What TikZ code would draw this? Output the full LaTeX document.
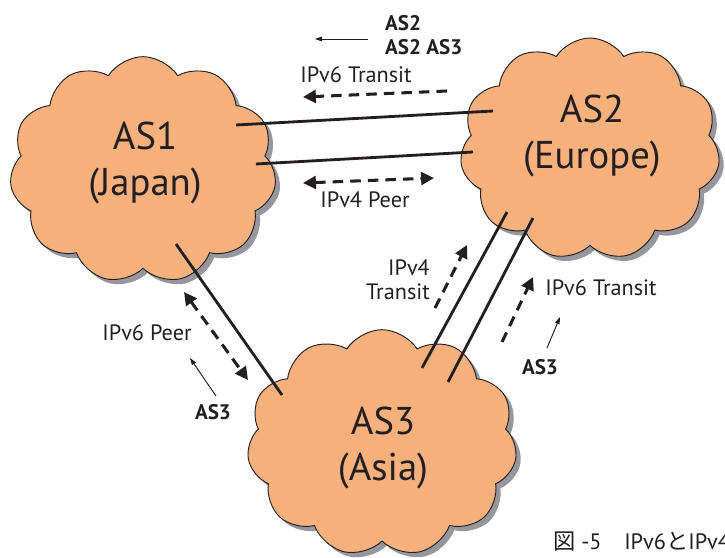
\documentclass[tikz,border=0pt]{standalone}
\usepackage{fontspec}
\setmainfont{PT Sans}
\newfontfamily\jpfont{Noto Sans CJK JP}
\usetikzlibrary{shapes.symbols,shadows,arrows.meta}
\definecolor{asorange}{RGB}{248,177,125}
\definecolor{asshadow}{RGB}{150,151,156}
\definecolor{asink}{RGB}{35,31,32}
\begin{document}
\begin{tikzpicture}[x=0.03cm,y=-0.03cm,
  ascloud/.style={cloud, cloud puffs=11, cloud puff arc=115, cloud ignores aspect, draw=asink, line width=0.8pt, fill=asorange,
    drop shadow={shadow xshift=1.4mm, shadow yshift=-1.4mm, fill=asshadow, opacity=1}},
  astext/.style={align=center, text=asink, font=\fontsize{33}{40}\selectfont},
  link/.style={draw=asink, line width=2.4pt},
  flow/.style={draw=asink, line width=2.6pt, dash pattern=on 9pt off 6pt, -{Triangle[length=11pt,width=11pt]}},
  flowboth/.style={flow, {Triangle[length=11pt,width=11pt]}-{Triangle[length=11pt,width=11pt]}},
  aspath/.style={draw=asink, line width=0.8pt, -{Triangle[length=6pt,width=4pt]}},
  lbl/.style={text=asink, font=\fontsize{19}{20.4}\selectfont},
  aslbl/.style={text=asink, font=\bfseries\fontsize{18}{20.4}\selectfont}]
\useasboundingbox (0,0) rectangle (725,558);

\node[ascloud, minimum width=8.0cm, minimum height=6.8cm] (as1) at (143,170) {};
\node[ascloud, minimum width=7.8cm, minimum height=6.66cm] (as2) at (590,149) {};
\node[ascloud, minimum width=8.1cm, minimum height=6.8cm] (as3) at (382,443) {};
\node[astext] (as1txt) at (145,163) {AS1\\(Japan)};
\node[astext] (as2txt) at (592,136) {AS2\\(Europe)};
\node[astext] (as3txt) at (383,448) {AS3\\(Asia)};

\coordinate (j1) at (236,125);
\coordinate (j2) at (256,164);
\coordinate (j3) at (176,244);
\coordinate (e1) at (493,111);
\coordinate (e2) at (473,152);
\coordinate (e3) at (507,212);
\coordinate (e4) at (533,218);
\coordinate (a1) at (282,395);
\coordinate (a2) at (422,368);
\coordinate (a3) at (448,382);
\draw[link] (j1) -- (e1);
\draw[link] (j2) -- (e2);
\draw[link] (j3) -- (a1);
\draw[link] (a2) -- (e3);
\draw[link] (a3) -- (e4);

\coordinate (t6s) at (447,91);
\coordinate (t6e) at (303,97);
\coordinate (p4s) at (303,183);
\coordinate (p4e) at (434,178);
\coordinate (p6s) at (184,292);
\coordinate (p6e) at (248,380);
\coordinate (t4s) at (435,308);
\coordinate (t4e) at (467,245);
\coordinate (r6s) at (502,342);
\coordinate (r6e) at (533,277);
\draw[flow] (t6s) -- (t6e);
\draw[flowboth] (p4s) -- (p4e);
\draw[flowboth] (p6s) -- (p6e);
\draw[flow] (t4s) -- (t4e);
\draw[flow] (r6s) -- (r6e);

\node[aslbl, align=left, anchor=west] (pathtop) at (381,35) {AS2\\AS2 AS3};
\node[aslbl] (pathleft) at (213,412) {AS3};
\node[aslbl] (pathright) at (540,367) {AS3};
\coordinate (pt) at (315,39);
\coordinate (pl) at (190,358);
\coordinate (pr) at (560,317);
\draw[aspath] (368,39) -- (pt);
\draw[aspath] (216,396) -- (pl);
\draw[aspath] (547,348) -- (pr);

\node[lbl] (tr6top) at (356,75) {IPv6 Transit};
\node[lbl] (peer4) at (365,200) {IPv4 Peer};
\node[lbl] (peer6) at (147,333) {IPv6 Peer};
\node[lbl, align=right, anchor=east] (tr4) at (434,280) {IPv4\\Transit};
\node[lbl] (tr6right) at (601,288) {IPv6 Transit};

\node[text=asink, font=\fontsize{19}{20}\selectfont, inner sep=0pt, anchor=base west] (caption) at (553,549) {{\jpfont 図} -5\hspace{0.68cm}IPv6{\jpfont と}IPv4};
\end{tikzpicture}
\end{document}
